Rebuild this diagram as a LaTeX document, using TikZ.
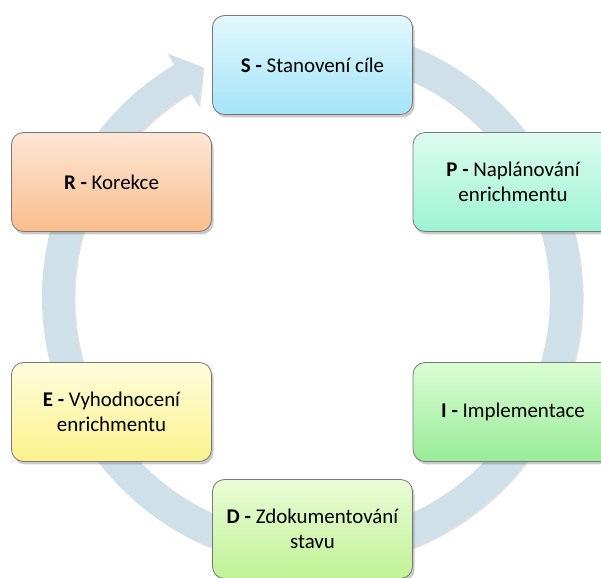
\documentclass[tikz,border=0pt]{standalone}
\usepackage{fontspec}
\setmainfont{Carlito}
\usetikzlibrary{shadows}
\definecolor{ringc}{RGB}{207,224,232}
\definecolor{boxborder}{RGB}{120,120,120}
\definecolor{sTop}{RGB}{226,248,253}
\definecolor{sBot}{RGB}{164,228,248}
\definecolor{pTop}{RGB}{222,252,240}
\definecolor{pBot}{RGB}{156,243,212}
\definecolor{rTop}{RGB}{253,230,214}
\definecolor{rBot}{RGB}{250,190,140}
\definecolor{eTop}{RGB}{254,253,220}
\definecolor{eBot}{RGB}{252,242,140}
\definecolor{iTop}{RGB}{218,252,212}
\definecolor{iBot}{RGB}{152,236,152}
\definecolor{dTop}{RGB}{234,252,214}
\definecolor{dBot}{RGB}{192,242,150}
\begin{document}
\begin{tikzpicture}[x=1bp,y=1bp,
  box/.style={draw=boxborder, line width=0.8bp, rounded corners=12bp,
    minimum width=200bp, minimum height=99bp, align=center,
    font=\fontsize{21}{25.5}\selectfont,
    drop shadow={shadow xshift=2bp, shadow yshift=-3bp, opacity=0.35, fill=black!60}},
  ring/.style={fill=ringc,
    drop shadow={shadow xshift=1.5bp, shadow yshift=-1.5bp, opacity=0.2, fill=black!60}}]
\useasboundingbox (0,0) rectangle (601,578);
\begin{scope}[shift={(312,281)}]
  \path[ring] (80:270) arc[start angle=80, end angle=-239.3, radius=270]
    -- (120.7:283) -- (115.4:254.5) -- (120.7:222) -- (120.7:238)
    arc[start angle=-239.3, end angle=80, radius=238] -- cycle;
\end{scope}
\node[box, top color=sTop, bottom color=sBot] (s) at (312.5,513) {\textbf{S -} Stanovení cíle};
\node[box, top color=pTop, bottom color=pBot] (p) at (513,396) {\textbf{P -} Naplánování\\enrichmentu};
\node[box, top color=iTop, bottom color=iBot] (i) at (513,166) {\textbf{I -} Implementace};
\node[box, top color=dTop, bottom color=dBot] (d) at (312.5,49) {\textbf{D -} Zdokumentování\\stavu};
\node[box, top color=eTop, bottom color=eBot] (e) at (111.5,166) {\textbf{E -} Vyhodnocení\\enrichmentu};
\node[box, top color=rTop, bottom color=rBot] (r) at (111.5,396) {\textbf{R -} Korekce};
\end{tikzpicture}
\end{document}
